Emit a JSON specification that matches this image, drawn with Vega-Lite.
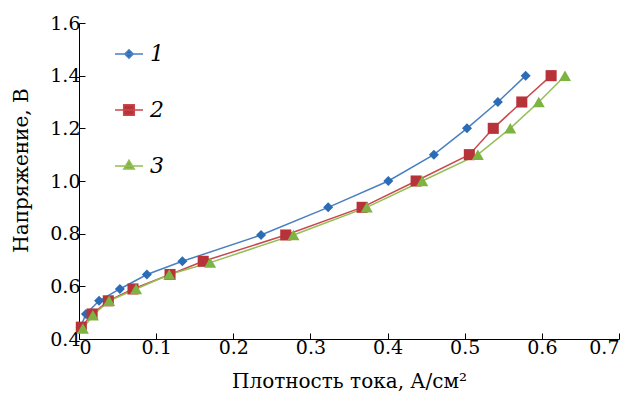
{
  "$schema": "https://vega.github.io/schema/vega-lite/v6.json",
  "width": 540,
  "height": 316,
  "autosize": {"type": "none"},
  "padding": {"left": 79, "top": 23, "right": 14, "bottom": 63},
  "background": "white",
  "config": {
    "view": {"stroke": null},
    "font": "DejaVu Serif",
    "axis": {
      "domainColor": "black", "tickColor": "black", "labelColor": "black", "titleColor": "black",
      "labelFont": "DejaVu Serif", "titleFont": "DejaVu Serif",
      "labelFontSize": 19, "titleFontSize": 20, "titleFontWeight": "normal",
      "grid": false, "tickSize": -6, "domainWidth": 1, "tickWidth": 1
    }
  },
  "data": {
    "values": [
      {"s": "1", "x": 0.002, "y": 0.445}, {"s": "1", "x": 0.009, "y": 0.495}, {"s": "1", "x": 0.026, "y": 0.545},
      {"s": "1", "x": 0.053, "y": 0.59}, {"s": "1", "x": 0.088, "y": 0.645}, {"s": "1", "x": 0.134, "y": 0.695},
      {"s": "1", "x": 0.236, "y": 0.795}, {"s": "1", "x": 0.323, "y": 0.9}, {"s": "1", "x": 0.401, "y": 1.0},
      {"s": "1", "x": 0.46, "y": 1.1}, {"s": "1", "x": 0.503, "y": 1.2}, {"s": "1", "x": 0.543, "y": 1.3},
      {"s": "1", "x": 0.579, "y": 1.4},
      {"s": "2", "x": 0.003, "y": 0.445}, {"s": "2", "x": 0.017, "y": 0.495}, {"s": "2", "x": 0.038, "y": 0.545},
      {"s": "2", "x": 0.07, "y": 0.59}, {"s": "2", "x": 0.118, "y": 0.645}, {"s": "2", "x": 0.161, "y": 0.695},
      {"s": "2", "x": 0.268, "y": 0.795}, {"s": "2", "x": 0.367, "y": 0.9}, {"s": "2", "x": 0.437, "y": 1.0},
      {"s": "2", "x": 0.506, "y": 1.1}, {"s": "2", "x": 0.537, "y": 1.2}, {"s": "2", "x": 0.574, "y": 1.3},
      {"s": "2", "x": 0.612, "y": 1.4},
      {"s": "3", "x": 0.005, "y": 0.44}, {"s": "3", "x": 0.018, "y": 0.49}, {"s": "3", "x": 0.039, "y": 0.545},
      {"s": "3", "x": 0.074, "y": 0.59}, {"s": "3", "x": 0.117, "y": 0.645}, {"s": "3", "x": 0.17, "y": 0.69},
      {"s": "3", "x": 0.278, "y": 0.795}, {"s": "3", "x": 0.373, "y": 0.9}, {"s": "3", "x": 0.445, "y": 1.0},
      {"s": "3", "x": 0.517, "y": 1.1}, {"s": "3", "x": 0.559, "y": 1.2}, {"s": "3", "x": 0.596, "y": 1.3},
      {"s": "3", "x": 0.63, "y": 1.4}
    ]
  },
  "layer": [
    {
      "mark": {"type": "line", "strokeWidth": 1.5},
      "encoding": {
        "x": {
          "field": "x", "type": "quantitative",
          "scale": {"domain": [0, 0.7], "nice": false, "zero": false},
          "axis": {"values": [0, 0.1, 0.2, 0.3, 0.4, 0.5, 0.6, 0.7], "format": ".1~f", "labelPadding": 5, "labelFont": "DejaVu Serif", "labelFontSize": 19, "title": "Плотность тока, А/см²", "titlePadding": 14}
        },
        "y": {
          "field": "y", "type": "quantitative",
          "scale": {"domain": [0.4, 1.6], "nice": false, "zero": false},
          "axis": {"values": [0.4, 0.6, 0.8, 1.0, 1.2, 1.4, 1.6], "format": ".1f", "labelPadding": 5, "labelFont": "DejaVu Serif", "labelFontSize": 19, "title": "Напряжение, В", "titlePadding": 18, "titleY": 147}
        },
        "color": {
          "field": "s", "type": "nominal",
          "scale": {"domain": ["1", "2", "3"], "range": ["#4a7fc1", "#c9484b", "#93bf55"]},
          "legend": null
        }
      }
    },
    {
      "mark": {"type": "point", "filled": true, "opacity": 1},
      "encoding": {
        "x": {"field": "x", "type": "quantitative"},
        "y": {"field": "y", "type": "quantitative"},
        "fill": {
          "field": "s", "type": "nominal",
          "scale": {"domain": ["1", "2", "3"], "range": ["#2b6cb7", "#b8323a", "#7db341"]},
          "legend": null
        },
        "shape": {
          "field": "s", "type": "nominal",
          "scale": {"domain": ["1", "2", "3"], "range": ["diamond", "square", "triangle-up"]},
          "legend": null
        },
        "size": {
          "field": "s", "type": "nominal",
          "scale": {"domain": ["1", "2", "3"], "range": [100, 145, 145]},
          "legend": null
        }
      }
    },
    {
      "data": {"values": []},
      "mark": {"type": "point", "filled": true, "opacity": 1, "strokeWidth": 1.5},
      "encoding": {
        "shape": {
          "field": "s", "type": "nominal",
          "scale": {"domain": ["1", "2", "3"], "range": [
            "M-1,0H1M-0.3,0L0,-0.3L0.3,0L0,0.3Z",
            "M-1,0H1M-0.38,-0.38H0.38V0.38H-0.38Z",
            "M-1,0H1M-0.38,0.22L0,-0.42L0.38,0.22Z"
          ]},
          "legend": {"title": null, "orient": "none", "legendX": 35, "legendY": 16, "direction": "vertical", "symbolSize": 784, "symbolStrokeWidth": 1.5, "labelFont": "DejaVu Serif", "labelFontStyle": "italic", "labelFontSize": 22, "labelColor": "black", "labelOffset": 6, "rowPadding": 30, "padding": 0}
        },
        "fill": {
          "field": "s", "type": "nominal",
          "scale": {"domain": ["1", "2", "3"], "range": ["#2b6cb7", "#b8323a", "#7db341"]},
          "legend": {"title": null, "orient": "none", "legendX": 35, "legendY": 16, "direction": "vertical", "symbolSize": 784, "symbolStrokeWidth": 1.5, "labelFont": "DejaVu Serif", "labelFontStyle": "italic", "labelFontSize": 22, "labelColor": "black", "labelOffset": 6, "rowPadding": 30, "padding": 0}
        },
        "stroke": {
          "field": "s", "type": "nominal",
          "scale": {"domain": ["1", "2", "3"], "range": ["#4a7fc1", "#c9484b", "#93bf55"]},
          "legend": {"title": null, "orient": "none", "legendX": 35, "legendY": 16, "direction": "vertical", "symbolSize": 784, "symbolStrokeWidth": 1.5, "labelFont": "DejaVu Serif", "labelFontStyle": "italic", "labelFontSize": 22, "labelColor": "black", "labelOffset": 6, "rowPadding": 30, "padding": 0}
        }
      }
    }
  ],
  "resolve": {"scale": {"shape": "independent", "fill": "independent", "size": "independent", "stroke": "independent"}}
}
